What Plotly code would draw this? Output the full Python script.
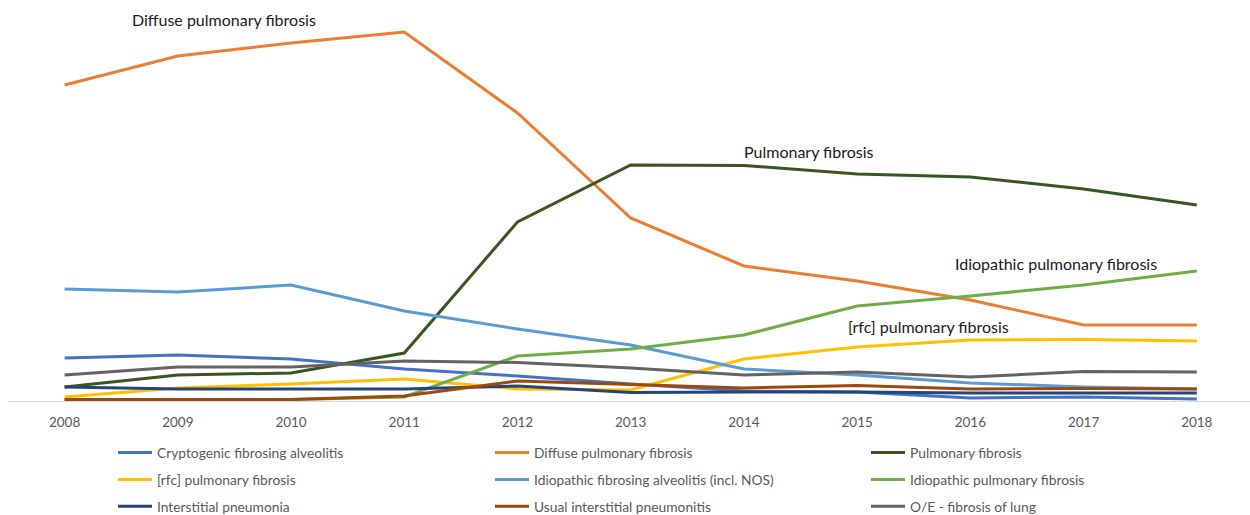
import plotly.graph_objects as go

years = ["2008", "2009", "2010", "2011", "2012", "2013", "2014", "2015", "2016", "2017", "2018"]

cryptogenic = [43, 46, 42, 32, 25, 17, 10, 9, 3, 4, 2]
diffuse = [316, 345, 358, 369, 288, 183, 135, 120, 101, 76, 76]
pulmonary = [14, 26, 28, 48, 179, 236, 235.5, 227, 224, 212, 196]
rfc = [4, 13, 17, 22, 12, 11, 42, 54, 61, 61.5, 60]
idio_fa = [112, 109, 116, 90, 72, 56, 32, 26, 18, 14, 12]
ipf = [1.5, 1.5, 1.5, 4, 45, 52, 66, 95, 105, 116, 130]
interstitial = [14, 12, 12, 12, 15, 8.5, 9, 9, 8, 8, 8]
usual = [1.5, 1.5, 1.5, 5, 20, 16.5, 13, 15.5, 12, 12.5, 12]
oe = [26, 34, 34, 40, 38.5, 33, 26, 29, 24, 29.5, 29]

series = [
    ("Cryptogenic fibrosing alveolitis", cryptogenic, "#4472C4", "legend"),
    ("Diffuse pulmonary fibrosis", diffuse, "#ED7D31", "legend2"),
    ("Pulmonary fibrosis", pulmonary, "#375623", "legend3"),
    ("[rfc] pulmonary fibrosis", rfc, "#FFC000", "legend"),
    ("Idiopathic fibrosing alveolitis (incl. NOS)", idio_fa, "#5B9BD5", "legend2"),
    ("Idiopathic pulmonary fibrosis", ipf, "#70AD47", "legend3"),
    ("Interstitial pneumonia", interstitial, "#264478", "legend"),
    ("Usual interstitial pneumonitis", usual, "#9E480E", "legend2"),
    ("O/E - fibrosis of lung", oe, "#636363", "legend3"),
]

labels = [
    ("Diffuse pulmonary fibrosis", 0.58, 382),
    ("Pulmonary fibrosis", 5.98, 250),
    ("Idiopathic pulmonary fibrosis", 7.85, 138),
    ("[rfc] pulmonary fibrosis", 6.90, 75),
]

FONT = "Lato"
fig = go.Figure()
for i, (name, vals, color, leg) in enumerate(series):
    fig.add_trace(go.Scatter(
        x=years, y=vals, mode="lines", name=name,
        line=dict(color=color, width=3),
        legend=leg, legendgroup=name,
    ))

for text, x, y in labels:
    fig.add_annotation(x=x, y=y, text=text, showarrow=False, xanchor="left",
                       yanchor="middle", font=dict(family=FONT, size=16, color="#1a1a1a"))

def CX(px):
    return px / 1250

def CY(py):
    return 1 - py / 515

legend_common = dict(orientation="v", yanchor="top", xanchor="left",
                     xref="container", yref="container",
                     font=dict(family=FONT, size=13.8, color="#595959"),
                     bgcolor="rgba(0,0,0,0)", tracegroupgap=6, itemwidth=34)
fig.update_layout(
    width=1250, height=515,
    margin=dict(l=8, r=0, t=10, b=113, autoexpand=False),
    plot_bgcolor="white", paper_bgcolor="white",
    showlegend=True,
    legend=dict(x=CX(113), y=CY(437), **legend_common),
    legend2=dict(x=CX(490), y=CY(437), **legend_common),
    legend3=dict(x=CX(866), y=CY(437), **legend_common),
    xaxis=dict(type="category", range=[-0.5, 10.47], showgrid=False, showline=False,
               ticks="", tickfont=dict(family=FONT, size=13.5, color="#595959"),
               ticklabelstandoff=10, fixedrange=True),
    yaxis=dict(range=[-1, 391], showgrid=False, showticklabels=False, zeroline=True,
               zerolinecolor="#D9D9D9", zerolinewidth=1, showline=False, fixedrange=True),
)

fig.write_html("out.html")
